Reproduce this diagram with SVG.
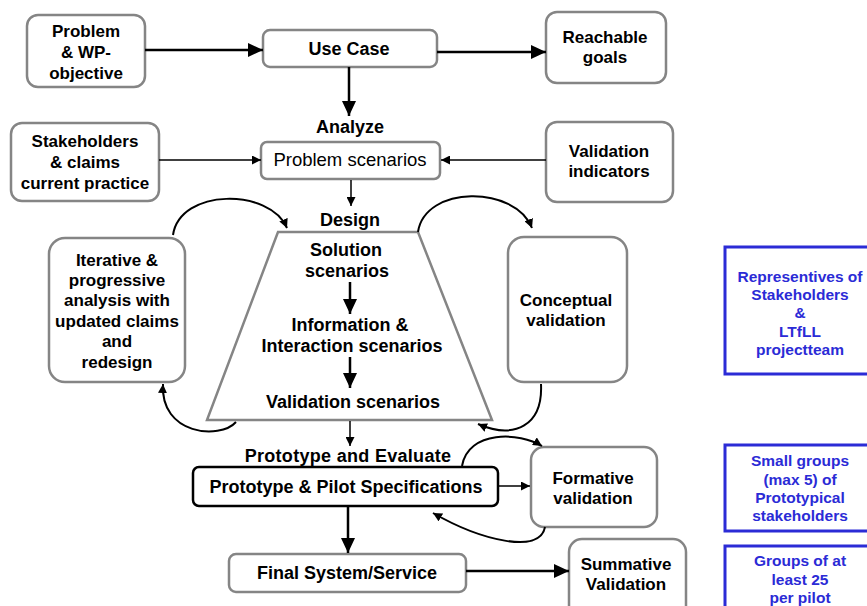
<svg xmlns="http://www.w3.org/2000/svg" width="867" height="606" viewBox="0 0 867 606">
<defs>
<style>
.box{fill:#fff;stroke:#858585;stroke-width:2.5}
.blk{fill:#fff;stroke:#000;stroke-width:2.5}
.blue{fill:#fff;stroke:#2b2bd6;stroke-width:3}
.t{font-family:"Liberation Sans",Arial,sans-serif;font-weight:bold;font-size:17px;fill:#000;text-anchor:middle}
.t18{font-size:18px}
.n{font-weight:normal;font-size:18.5px}
.bt{font-family:"Liberation Sans",Arial,sans-serif;font-weight:bold;font-size:15.5px;fill:#2b2bd6;text-anchor:middle}
.thick{fill:none;stroke:#000;stroke-width:2.5;marker-end:url(#big)}
.thin{fill:none;stroke:#000;stroke-width:1.5;marker-end:url(#small)}
.curve{fill:none;stroke:#000;stroke-width:2;marker-end:url(#small)}
</style>
<marker id="big" markerUnits="userSpaceOnUse" markerWidth="16" markerHeight="14" refX="15" refY="7" orient="auto"><path d="M0,0 L15,7 L0,14 z" fill="#000"/></marker>
<marker id="small" markerUnits="userSpaceOnUse" markerWidth="10" markerHeight="9" refX="9" refY="4.5" orient="auto"><path d="M0,0 L9,4.5 L0,9 z" fill="#000"/></marker>
</defs>
<rect width="867" height="606" fill="#fff"/>

<g id="problem">
<rect class="box" x="27" y="15" width="118" height="72" rx="11"/>
<text class="t" x="86" y="37">Problem</text>
<text class="t" x="86" y="58">&amp; WP-</text>
<text class="t" x="86" y="79">objective</text>
</g>
<g id="usecase">
<rect class="box" x="263" y="30" width="174" height="37" rx="7"/>
<text class="t t18" x="349" y="55">Use Case</text>
</g>
<g id="reachable">
<rect class="box" x="546" y="12" width="120" height="71" rx="11"/>
<text class="t" x="605" y="43">Reachable</text>
<text class="t" x="605" y="63">goals</text>
</g>
<g id="analyze"><text class="t t18" x="350" y="133">Analyze</text></g>
<g id="problemscen">
<rect class="box" x="261" y="142" width="179" height="37" rx="6" stroke-width="2"/>
<text class="t n" x="350" y="166">Problem scenarios</text>
</g>
<g id="stakeholders">
<rect class="box" x="11" y="123" width="148" height="78" rx="11"/>
<text class="t" x="85" y="147">Stakeholders</text>
<text class="t" x="85" y="168">&amp; claims</text>
<text class="t" x="85" y="189">current practice</text>
</g>
<g id="valind">
<rect class="box" x="546" y="122" width="127" height="80" rx="11"/>
<text class="t" x="609" y="157">Validation</text>
<text class="t" x="609" y="177">indicators</text>
</g>
<g id="design">
<text class="t t18" x="350" y="226">Design</text>
<polygon points="278,232 418,232 492,420 207,420" fill="#fff" stroke="#858585" stroke-width="2.5"/>
<text class="t t18" x="346" y="256">Solution</text>
<text class="t t18" x="347" y="277">scenarios</text>
<text class="t t18" x="350" y="331">Information &amp;</text>
<text class="t t18" x="352" y="352">Interaction scenarios</text>
<text class="t t18" x="353" y="408">Validation scenarios</text>
</g>
<g id="iterative">
<rect class="box" x="49" y="238" width="136" height="144" rx="16"/>
<text class="t" x="117" y="266">Iterative &amp;</text>
<text class="t" x="117" y="286">progressive</text>
<text class="t" x="117" y="306">analysis with</text>
<text class="t" x="117" y="327">updated claims</text>
<text class="t" x="117" y="347">and</text>
<text class="t" x="117" y="368">redesign</text>
</g>
<g id="conceptual">
<rect class="box" x="508" y="237" width="119" height="145" rx="16"/>
<text class="t" x="566" y="306">Conceptual</text>
<text class="t" x="566" y="326">validation</text>
</g>
<g id="reps">
<rect class="blue" x="725" y="247" width="146" height="127"/>
<text class="bt" x="800" y="282">Representives of</text>
<text class="bt" x="800" y="300">Stakeholders</text>
<text class="bt" x="800" y="318">&amp;</text>
<text class="bt" x="800" y="337">LTfLL</text>
<text class="bt" x="800" y="355">projectteam</text>
</g>
<g id="protolabel"><text class="t t18" x="348" y="462" letter-spacing="0.3">Prototype and Evaluate</text></g>
<g id="prototype">
<rect class="blk" x="193" y="467" width="305" height="39" rx="6"/>
<text class="t t18" x="346" y="493">Prototype &amp; Pilot Specifications</text>
</g>
<g id="formative">
<rect class="box" x="531" y="447" width="126" height="80" rx="13"/>
<text class="t" x="593" y="484">Formative</text>
<text class="t" x="593" y="504">validation</text>
</g>
<g id="smallgroups">
<rect class="blue" x="725" y="445" width="146" height="86"/>
<text class="bt" x="800" y="466">Small groups</text>
<text class="bt" x="800" y="485">(max 5) of</text>
<text class="bt" x="800" y="503">Prototypical</text>
<text class="bt" x="800" y="521">stakeholders</text>
</g>
<g id="final">
<rect class="box" x="229" y="554" width="237" height="38" rx="7"/>
<text class="t t18" x="347" y="579">Final System/Service</text>
</g>
<g id="summative">
<rect class="box" x="569" y="539" width="117" height="80" rx="13"/>
<text class="t" x="626" y="570">Summative</text>
<text class="t" x="626" y="590">Validation</text>
</g>
<g id="groups25">
<rect class="blue" x="725" y="546" width="146" height="80"/>
<text class="bt" x="800" y="566">Groups of at</text>
<text class="bt" x="800" y="585">least 25</text>
<text class="bt" x="800" y="603">per pilot</text>
</g>

<g id="connectors">
<line class="thick" x1="145" y1="50" x2="263" y2="50"/>
<line class="thick" x1="437" y1="52" x2="546" y2="52"/>
<line class="thick" x1="349" y1="67" x2="349" y2="116"/>
<line class="thin" x1="159" y1="160" x2="261" y2="160"/>
<line class="thin" x1="546" y1="160" x2="441" y2="160"/>
<line class="thin" x1="351" y1="180" x2="351" y2="206"/>
<line class="thick" x1="350" y1="282" x2="350" y2="314"/>
<line class="thick" x1="350" y1="357" x2="350" y2="388"/>
<line class="thin" x1="350" y1="421" x2="350" y2="446"/>
<line class="thin" x1="499" y1="486" x2="530" y2="486"/>
<line class="thick" x1="348" y1="507" x2="348" y2="553"/>
<line class="thick" x1="466" y1="571" x2="569" y2="571"/>
<path class="curve" d="M173,235 C180,188 270,188 287,228"/>
<path class="curve" d="M418,232 C425,185 515,185 532,228"/>
<path class="curve" d="M236,422 C220,440 160,435 163,384"/>
<path class="curve" d="M541,384 C543,425 515,440 478,424"/>
<path class="curve" d="M462,466 C468,430 520,432 542,446"/>
<path class="curve" d="M545,527 C540,555 480,540 433,513"/>
</g>
</svg>
